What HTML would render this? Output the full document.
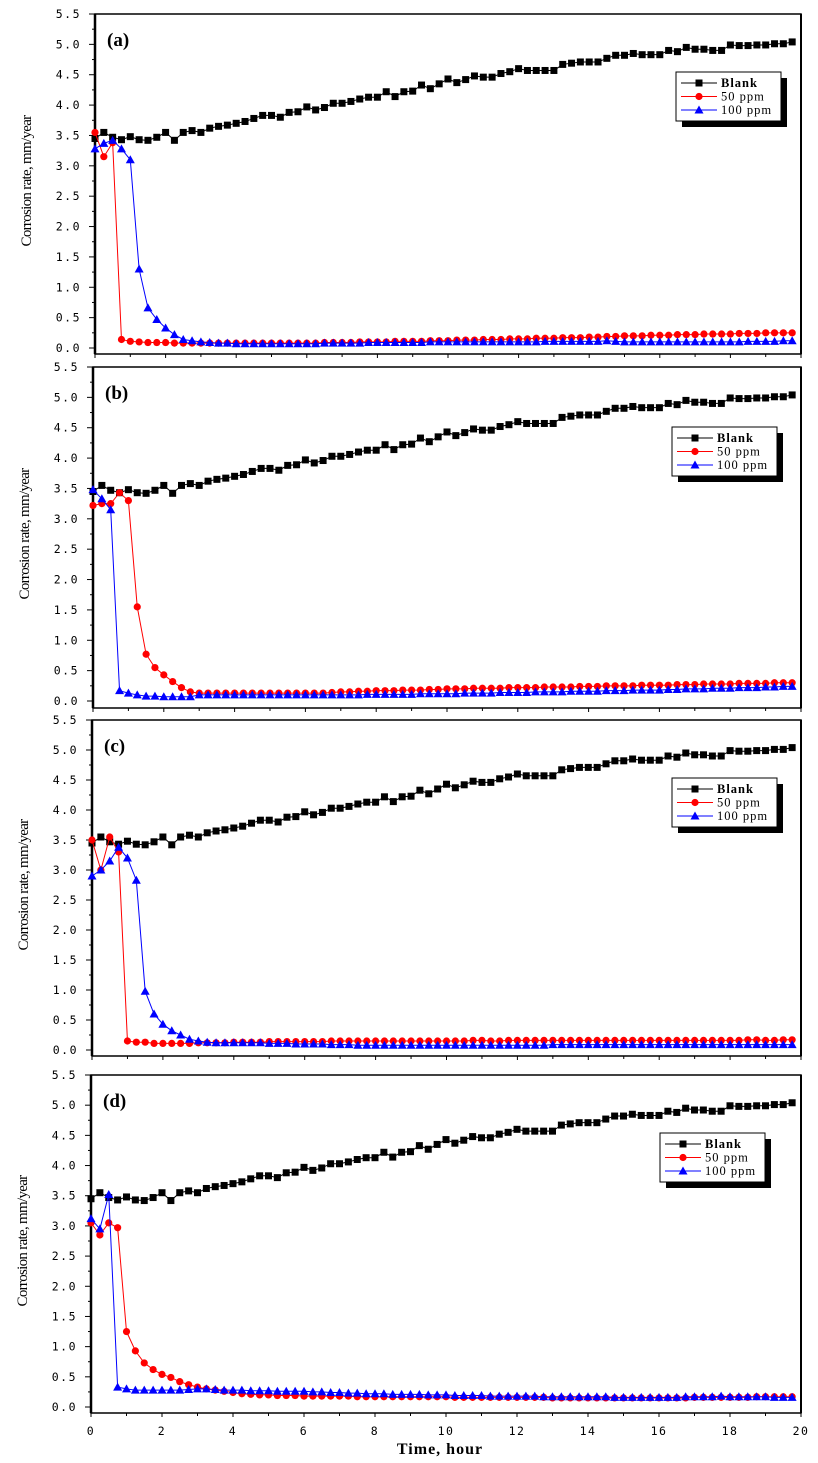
<!DOCTYPE html>
<html><head><meta charset="utf-8"><style>
html,body{margin:0;padding:0;background:#fff;}
svg{display:block;}
.tk{font-family:"DejaVu Sans Mono","Liberation Mono",monospace;font-size:11.5px;fill:#000;letter-spacing:1.5px;}
</style></head><body>
<svg id="chart" width="818" height="1463" viewBox="0 0 818 1463" xmlns="http://www.w3.org/2000/svg">
<text x="440" y="1454" text-anchor="middle" font-family="Liberation Serif,serif" font-weight="bold" font-size="16" letter-spacing="1">Time, hour</text>
</svg>
<script>
const times = []; for (let i = 0; i < 80; i++) times.push(i * 0.25);
const blank = [3.45,3.55,3.47,3.43,3.48,3.43,3.42,3.47,3.55,3.42,3.55,3.58,3.55,3.62,3.65,3.67,3.70,3.73,3.78,3.83,3.83,3.80,
3.88,3.89,3.97,3.92,3.96,4.03,4.03,4.06,4.10,4.13,4.13,4.22,4.14,4.22,4.23,4.33,4.27,4.35,4.43,4.37,4.42,4.48,4.46,4.46,4.52,4.55,4.60,4.57,4.57,4.57,4.57,4.67,4.69,4.71,4.71,4.71,4.77,4.82,4.82,4.85,4.83,4.83,4.83,4.90,4.88,4.95,4.92,4.92,4.90,4.90,4.99,4.98,4.98,4.99,4.99,5.01,5.01,5.04];
const a50 = [3.55,3.15,3.38,0.14,0.11,0.10,0.09,0.09,0.09,0.08,0.08,
0.08,0.08,0.08,0.08,0.08,0.08,0.08,0.08,0.08,0.08,0.08,0.08,0.08,0.08,
0.08,0.09,0.09,0.09,0.09,0.10,0.10,0.10, 0.10,0.11,0.11,0.11,0.11,0.12,0.12,0.12,
0.13,0.13,0.13,0.14,0.14,0.14,0.15,0.15, 0.15,0.16,0.16,0.16,0.17,0.17,0.17,0.18,
0.18,0.19,0.19,0.20,0.20,0.20,0.21,0.21, 0.21,0.22,0.22,0.22,0.23,0.23,0.23,0.23,
0.24,0.24,0.24,0.25,0.25,0.25,0.25];
const a100 = [3.28,3.37,3.42,3.28,3.10,1.30,0.66,0.47,0.33,0.22,0.14,0.12,0.10,0.09,
0.08,0.08,0.07,0.07,0.07,0.07,0.07,0.07,0.07,0.07,0.07,
0.07,0.08,0.08,0.08,0.08,0.08,0.09,0.09, 0.09,0.09,0.09,0.09,0.09,0.10,0.10,0.10,
0.10,0.10,0.10,0.10,0.10,0.10,0.10,0.10, 0.10,0.10,0.11,0.11,0.11,0.11,0.11,0.11,
0.11,0.12,0.11,0.10,0.10,0.10,0.10,0.10, 0.10,0.10,0.10,0.10,0.10,0.10,0.10,0.10,
0.10,0.11,0.11,0.11,0.11,0.12,0.12];
const b50 = [3.22,3.25,3.25,3.43,3.30,1.55,0.77,0.55,0.43,0.32,0.22,0.15,0.13,
0.13,0.13,0.13,0.13,0.13,0.13,0.13,0.13,0.13,0.13,0.13,0.13,
0.13,0.13,0.14,0.15,0.15,0.16,0.16,0.17, 0.17,0.17,0.18,0.18,0.18,0.19,0.19,0.20,
0.20,0.20,0.21,0.21,0.21,0.21,0.22,0.22, 0.22,0.22,0.23,0.23,0.23,0.23,0.24,0.24,
0.24,0.25,0.25,0.25,0.25,0.26,0.26,0.26, 0.26,0.27,0.27,0.27,0.28,0.28,0.28,0.28,
0.29,0.29,0.29,0.29,0.30,0.30,0.30];
const b100 = [3.48,3.33,3.15,0.17,0.13,0.10,0.08,0.08,0.07,0.07,0.07,0.07,0.10,
0.10,0.10,0.10,0.10,0.10,0.10,0.10,0.10,0.10,0.10,0.10,0.10,
0.10,0.10,0.10,0.10,0.10,0.10,0.11,0.11, 0.11,0.11,0.11,0.11,0.12,0.12,0.12,0.12,
0.12,0.13,0.13,0.13,0.13,0.14,0.14,0.14, 0.14,0.15,0.15,0.15,0.15,0.16,0.16,0.16,
0.16,0.17,0.17,0.17,0.18,0.18,0.18,0.18, 0.19,0.19,0.20,0.20,0.20,0.21,0.21,0.21,
0.22,0.22,0.22,0.23,0.23,0.24,0.24];
const c50 = [3.50,3.00,3.55,3.30,0.15,0.13,0.13,0.11,0.11,
0.11,0.11,0.11,0.12,0.12,0.12,0.12,0.13,0.13,0.13,0.13,0.14,0.14,0.14,0.14,0.14,
0.14,0.14,0.15,0.15,0.15,0.15,0.15,0.15, 0.15,0.15,0.15,0.15,0.15,0.15,0.15,0.15,
0.15,0.15,0.16,0.16,0.15,0.15,0.16,0.16, 0.16,0.16,0.16,0.16,0.16,0.16,0.16,0.16,
0.16,0.16,0.16,0.16,0.16,0.16,0.16,0.16, 0.16,0.16,0.16,0.16,0.16,0.16,0.16,0.16,
0.16,0.17,0.17,0.16,0.16,0.17,0.17];
const c100 = [2.90,3.00,3.15,3.38,3.20,2.83,0.98,0.60,0.43,0.32,0.25,0.18,0.15,0.13,0.12,
0.12,0.12,0.12,0.12,0.12,0.11,0.11,0.11,0.10,0.10,
0.10,0.10,0.09,0.09,0.09,0.08,0.08,0.08, 0.08,0.08,0.08,0.08,0.08,0.08,0.08,0.08,
0.08,0.08,0.08,0.08,0.08,0.08,0.08,0.08, 0.08,0.08,0.08,0.09,0.09,0.09,0.09,0.09,
0.09,0.09,0.09,0.09,0.09,0.09,0.09,0.09, 0.09,0.09,0.09,0.09,0.09,0.09,0.09,0.09,
0.09,0.09,0.09,0.09,0.09,0.09,0.09];
const d50 = [3.05,2.85,3.05,2.97,1.25,0.93,0.73,0.62,0.54,0.49,0.42,0.37,0.33,0.30,0.28,0.26,0.24,0.22,0.21,0.20,0.20,0.19,0.19,0.19,
0.18,
0.18,0.18,0.18,0.18,0.18,0.17,0.17,0.17, 0.17,0.17,0.17,0.17,0.17,0.17,0.17,0.17,
0.16,0.16,0.16,0.16,0.16,0.16,0.16,0.16, 0.16,0.16,0.16,0.15,0.15,0.15,0.15,0.15,
0.15,0.15,0.15,0.15,0.15,0.15,0.15,0.15, 0.15,0.15,0.15,0.16,0.16,0.16,0.16,0.16,
0.16,0.16,0.17,0.17,0.17,0.17,0.17];
const d100 = [3.12,2.95,3.52,0.33,0.30,0.28,0.28,0.28,0.28,0.28,0.28,0.29,0.30,0.30,0.29,0.28,0.28,0.28,0.27,0.27,0.27,0.26,0.26,0.26,0.26,
0.25,0.25,0.24,0.24,0.23,0.23,0.22,0.22, 0.22,0.21,0.21,0.21,0.21,0.20,0.20,0.20,
0.19,0.19,0.19,0.19,0.18,0.18,0.18,0.18, 0.18,0.18,0.17,0.17,0.17,0.17,0.17,0.17,
0.17,0.17,0.16,0.16,0.16,0.16,0.16,0.16, 0.16,0.16,0.17,0.17,0.17,0.17,0.18,0.17,
0.17,0.17,0.17,0.17,0.16,0.16,0.16];
const yTicks = ["0.0","0.5","1.0","1.5","2.0","2.5","3.0","3.5","4.0","4.5","5.0","5.5"];
const xTicks = [0,2,4,6,8,10,12,14,16,18,20];
const panelLabels = ["(a)","(b)","(c)","(d)"];
const legendNames = ["Blank","50 ppm","100 ppm"];

const NS = "http://www.w3.org/2000/svg";
const svg = document.getElementById('chart');
function mk(tag, attrs, parent){const e=document.createElementNS(NS,tag);for(const k in attrs)e.setAttribute(k,attrs[k]);(parent||svg).appendChild(e);return e;}

const panels = [
 {L:95,T:14,Z:348,B:354,lx:676,ly:72, s50:a50, s100:a100},
 {L:93,T:367,Z:701,B:708,lx:672,ly:427, s50:b50, s100:b100},
 {L:92,T:720,Z:1050,B:1056,lx:672,ly:778, s50:c50, s100:c100},
 {L:91,T:1075,Z:1407,B:1413,lx:660,ly:1133, s50:d50, s100:d100}
];
const R = 801;

function marker(g, type, x, y){
  let e;
  if(type===0){e=mk('rect',{x:x-3.5,y:y-3.5,width:7,height:7,fill:'#000'},g);}
  else if(type===1){e=mk('circle',{cx:x,cy:y,r:3.6,fill:'#f00'},g);}
  else {e=mk('polygon',{points:`${x},${y-4.5} ${x+4.5},${y+3.5} ${x-4.5},${y+3.5}`,fill:'#00f'},g);}
  return e;
}

panels.forEach((p,pi)=>{
  const g = mk('g',{});
  
  
  const xs = t => p.L + (t/20)*(R-p.L);
  const ys = v => p.Z - (v/5.5)*(p.Z-p.T);
  const fr = mk('rect',{x:p.L,y:p.T,width:R-p.L,height:p.B-p.T,fill:'none',stroke:'#000','stroke-width':1.5},g);
  
  
  mk('line',{x1:p.L,y1:p.T,x2:p.L,y2:p.B,stroke:'#000','stroke-width':2.5},g);
  mk('line',{x1:R,y1:p.T,x2:R,y2:p.B,stroke:'#000','stroke-width':2},g);
  for(let i=0;i<=22;i++){
    const v=i*0.25, y=ys(v);
    mk('line',{x1:p.L-(i%2?3:6),y1:y,x2:p.L,y2:y,stroke:'#000','stroke-width':1},g);
  }
  yTicks.forEach((lab,i)=>{
    const t=mk('text',{x:p.L-14,y:ys(i*0.5)+4,'text-anchor':'end',class:'tk'},g);
    t.textContent=lab;
    
    
  });
  for(let i=0;i<=20;i++){
    const x=xs(i);
    mk('line',{x1:x,y1:p.B,x2:x,y2:p.B+(i%2?3:4),stroke:'#000','stroke-width':1},g);
  }
  if(pi===3){
    xTicks.forEach(v=>{
      const t=mk('text',{x:xs(v),y:p.B+22,'text-anchor':'middle',class:'tk'},g);
      t.textContent=v;
      
      
    });
  }
  const yt=mk('text',{x:0,y:0,transform:`translate(${p.L-64},${(p.T+p.Z)/2}) rotate(-90)`,'text-anchor':'middle','font-family':'Liberation Serif,serif','font-size':15,'letter-spacing':-0.7},g);
  yt.textContent='Corrosion rate, mm/year';
  
  
  const pl=mk('text',{x:p.L+12,y:p.T+32,'font-family':'Liberation Serif,serif','font-weight':'bold','font-size':19},g);
  pl.textContent=panelLabels[pi];
  
  
  const series=[[blank,'#000',0,'blank'],[p.s50,'#f00',1,'50-ppm'],[p.s100,'#00f',2,'100-ppm']];
  series.forEach(([vals,col,type,nm])=>{
    const sg=mk('g',{},g);
    
    
    const pts=vals.map((v,i)=>xs(times[i])+','+ys(v)).join(' ');
    const ln=mk('polyline',{points:pts,fill:'none',stroke:col,'stroke-width':1},sg);
    
    
    vals.forEach((v,i)=>{
      const m=marker(sg,type,xs(times[i]),ys(v));
      
      
    });
  });
  const lg=mk('g',{},g);
  
  
  const W=105,H=49;
  mk('rect',{x:p.lx+6,y:p.ly+6,width:W,height:H,fill:'#000'},lg);
  mk('rect',{x:p.lx,y:p.ly,width:W,height:H,fill:'#fff',stroke:'#000','stroke-width':1},lg);
  legendNames.forEach((nm,i)=>{
    const y=p.ly+11+i*13.5;
    const col=['#000','#f00','#00f'][i];
    const e=mk('g',{},lg);
    
    
    mk('line',{x1:p.lx+5,y1:y,x2:p.lx+41,y2:y,stroke:col,'stroke-width':1},e);
    marker(e,i,p.lx+23,y);
    const t=mk('text',{x:p.lx+45,y:y+4,'font-family':'Liberation Serif,serif','font-size':12.5,'letter-spacing':1,'font-weight':i===0?'bold':'normal'},e);
    t.textContent=nm;
  });
});
</script>
</body></html>
